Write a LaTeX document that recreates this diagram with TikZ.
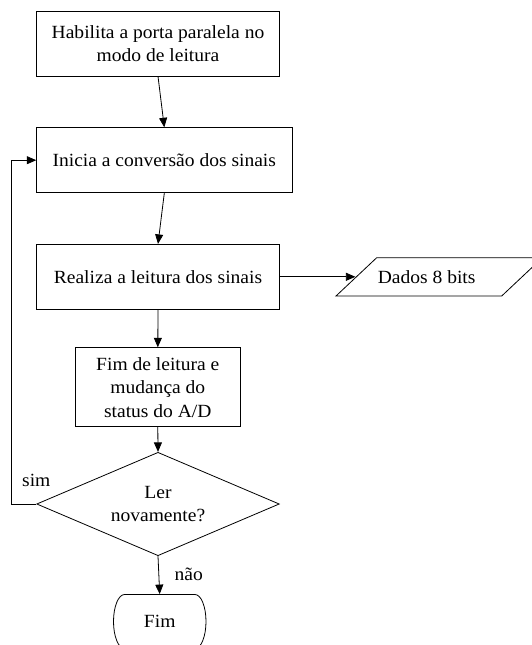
\documentclass[tikz,border=0pt]{standalone}
\usepackage{fontspec}
\setmainfont{Liberation Serif}[FakeStretch=1.05]
\usetikzlibrary{arrows.meta,shapes.geometric}
\begin{document}
\begin{tikzpicture}[x=1pt,y=-1pt, line width=0.8pt,
  font=\fontsize{18.6pt}{23.5pt}\selectfont,
  box/.style={draw, inner sep=0pt, align=center},
  arr/.style={-{Triangle[length=9.5pt,width=8pt]}}]
\useasboundingbox (0,0) rectangle (532,645);
\node[box, minimum width=242.6pt, minimum height=64.3pt] (b1) at (158,43.8) {Habilita a porta paralela no\\modo de leitura};
\node[box, minimum width=255.3pt, minimum height=65pt] (b2) at (164.3,160.2) {Inicia a conversão dos sinais};
\node[box, minimum width=242.6pt, minimum height=65pt] (b3) at (158,276.8) {Realiza a leitura dos sinais};
\node[box, minimum width=165.7pt, minimum height=79pt] (b4) at (157.8,387.2) {Fim de leitura e\\mudança do\\status do A/D};
\node[draw, diamond, shape aspect=2.35, inner sep=0pt, minimum width=242.6pt, minimum height=103.4pt, align=center] (d) at (158,504) {Ler\\novamente?};
% parallelogram
\draw (336,296) -- (376.7,257.7) -- (542.4,257.7) -- (501.7,296) -- cycle;
\node (dados) at (426.7,276.7) {Dados 8 bits};
\coordinate (din) at (355.4,276.8);
% terminal
\node[inner sep=0pt, minimum width=93pt, minimum height=54pt] (fim) at (159.7,621.5) {Fim};
\draw (124.5,594.5) -- (195,594.5) arc[start angle=-90, end angle=90, x radius=11, y radius=27]
  -- (124.5,648.5) arc[start angle=90, end angle=270, x radius=11, y radius=27] -- cycle;
% connectors
\draw[arr] (b1.south) -- (b2.north);
\draw[arr] (b2.south) -- (b3.north);
\draw[arr] (b3.south) -- (b4.north);
\draw[arr] (b4.south) -- (d.north);
\draw[arr] (d.south) -- (fim.north);
\draw[arr] (b3.east) -- (din);
\draw[arr] (d.west) -- ++(-25,0) |- (b2.west);
\node (sim) at (36.3,480) {sim};
\node (nao) at (188.7,574) {não};
\end{tikzpicture}
\end{document}
